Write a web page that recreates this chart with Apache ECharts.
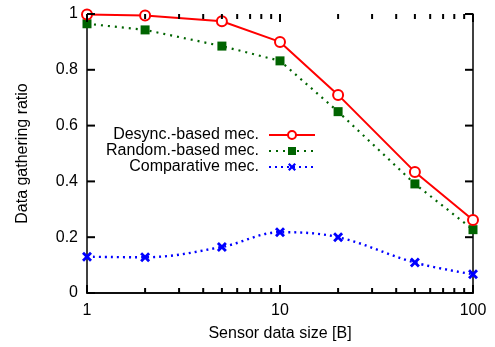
<!DOCTYPE html>
<html style="height: 100%">
<head>
    <meta charset="utf-8">
    <title>Data gathering ratio</title>
    <script type="text/javascript" src="https://cdn.jsdelivr.net/npm/echarts@6/dist/echarts.min.js"></script>
</head>
<body style="height: 100%; margin: 0; background: #fff;">
<div id="container" style="width: 495px; height: 347px"></div>
<script type="text/javascript">
    // sensor data size [B]
    var sizes = [1, 2, 5, 10, 20, 50, 100];
    var desyncMec = [0.998, 0.995, 0.974, 0.900, 0.710, 0.434, 0.262];
    var randomMec = [0.965, 0.943, 0.885, 0.832, 0.650, 0.391, 0.227];
    var comparativeMec = [0.130, 0.128, 0.165, 0.218, 0.200, 0.109, 0.067];
    var xMajor = [1, 10, 100];
    var xMinor = [2, 3, 4, 5, 6, 7, 8, 9, 20, 30, 40, 50, 60, 70, 80, 90];
    var yTicks = [0, 0.2, 0.4, 0.6, 0.8, 1];
    var names = ['Desync.-based mec.', 'Random.-based mec.', 'Comparative mec.'];

    function pairs(vals) {
        var out = [];
        for (var i = 0; i < sizes.length; i++) {
            out.push([sizes[i], vals[i]]);
        }
        return out;
    }

    var font = 'Liberation Sans, Arial, sans-serif';
    var crossPath = 'path://M0,2L2,0L5,3L8,0L10,2L7,5L10,8L8,10L5,7L2,10L0,8L3,5Z';

    // gnuplot style inward ticks, mirrored on the opposite side, drawn as thin rect symbols
    function tickSeries(data, size, offset) {
        return {
            type: 'scatter', data: data, symbol: 'rect',
            symbolSize: size, symbolOffset: offset,
            itemStyle: {color: '#000', borderWidth: 0, opacity: 1},
            clip: false, silent: true, z: 6
        };
    }
    function atY(xs, y) { return xs.map(function (v) { return [v, y]; }); }
    function atX(ys, x) { return ys.map(function (v) { return [x, v]; }); }

    var legendRows = [122, 138, 154];
    var legends = [];
    for (var k = 0; k < names.length; k++) {
        legends.push({
            data: [names[k]],
            right: 174, top: legendRows[k],
            align: 'right',
            itemWidth: 46, itemHeight: 10,
            textStyle: {fontFamily: font, fontSize: 16, color: '#000', padding: [0, 5, 0, 0]},
            selectedMode: false
        });
    }

    var myChart = echarts.init(document.getElementById('container'), null, {renderer: 'canvas'});
    var option = {
        animation: false,
        backgroundColor: '#fff',
        grid: {left: 87, right: 22, top: 14, bottom: 54},
        legend: legends,
        xAxis: [
            {
                type: 'log', logBase: 10, min: 1, max: 100, position: 'bottom',
                name: 'Sensor data size [B]', nameLocation: 'middle', nameGap: 33,
                nameTextStyle: {fontFamily: font, fontSize: 16, color: '#000'},
                axisLine: {show: true, lineStyle: {color: '#000', width: 1.5}},
                axisTick: {show: false},
                axisLabel: {fontFamily: font, fontSize: 16, color: '#000', margin: 10},
                splitLine: {show: false}
            },
            {
                type: 'log', logBase: 10, min: 1, max: 100, position: 'top',
                axisLine: {show: true, lineStyle: {color: '#000', width: 1.5}},
                axisTick: {show: false}, axisLabel: {show: false}, splitLine: {show: false}
            }
        ],
        yAxis: [
            {
                type: 'value', min: 0, max: 1, interval: 0.2, position: 'left',
                name: 'Data gathering ratio', nameLocation: 'middle', nameGap: 56,
                nameTextStyle: {fontFamily: font, fontSize: 16, color: '#000'},
                axisLine: {show: true, lineStyle: {color: '#000', width: 1.5}},
                axisTick: {show: false},
                axisLabel: {fontFamily: font, fontSize: 16, color: '#000', margin: 9},
                splitLine: {show: false}
            },
            {
                type: 'value', min: 0, max: 1, interval: 0.2, position: 'right',
                axisLine: {show: true, lineStyle: {color: '#000', width: 1.5}},
                axisTick: {show: false}, axisLabel: {show: false}, splitLine: {show: false}
            }
        ],
        series: [
            tickSeries(atY(xMajor, 0), [2, 8], [0, -4]),
            tickSeries(atY(xMajor, 1), [2, 8], [0, 4]),
            tickSeries(atY(xMinor, 0), [2, 5], [0, -2.5]),
            tickSeries(atY(xMinor, 1), [2, 5], [0, 2.5]),
            tickSeries(atX(yTicks, 1), [8, 2], [4, 0]),
            tickSeries(atX(yTicks, 100), [8, 2], [-4, 0]),
            {
                name: names[0], type: 'line', data: pairs(desyncMec),
                symbol: 'circle', symbolSize: 10,
                lineStyle: {color: '#ff0000', width: 2},
                itemStyle: {color: '#fff', borderColor: '#ff0000', borderWidth: 2},
                z: 5
            },
            {
                name: names[1], type: 'line', data: pairs(randomMec),
                symbol: 'rect', symbolSize: 9,
                lineStyle: {color: '#006400', width: 2.2, type: [2, 5]},
                itemStyle: {color: '#006400', borderWidth: 0},
                z: 4
            },
            {
                name: names[2], type: 'line', data: pairs(comparativeMec),
                symbol: crossPath, symbolSize: 10, smooth: 0.35,
                lineStyle: {color: '#0000ff', width: 2.4, type: [2, 4]},
                itemStyle: {color: '#0000ff', borderWidth: 0},
                z: 3
            }
        ]
    };
    myChart.setOption(option);
</script>
</body>
</html>
